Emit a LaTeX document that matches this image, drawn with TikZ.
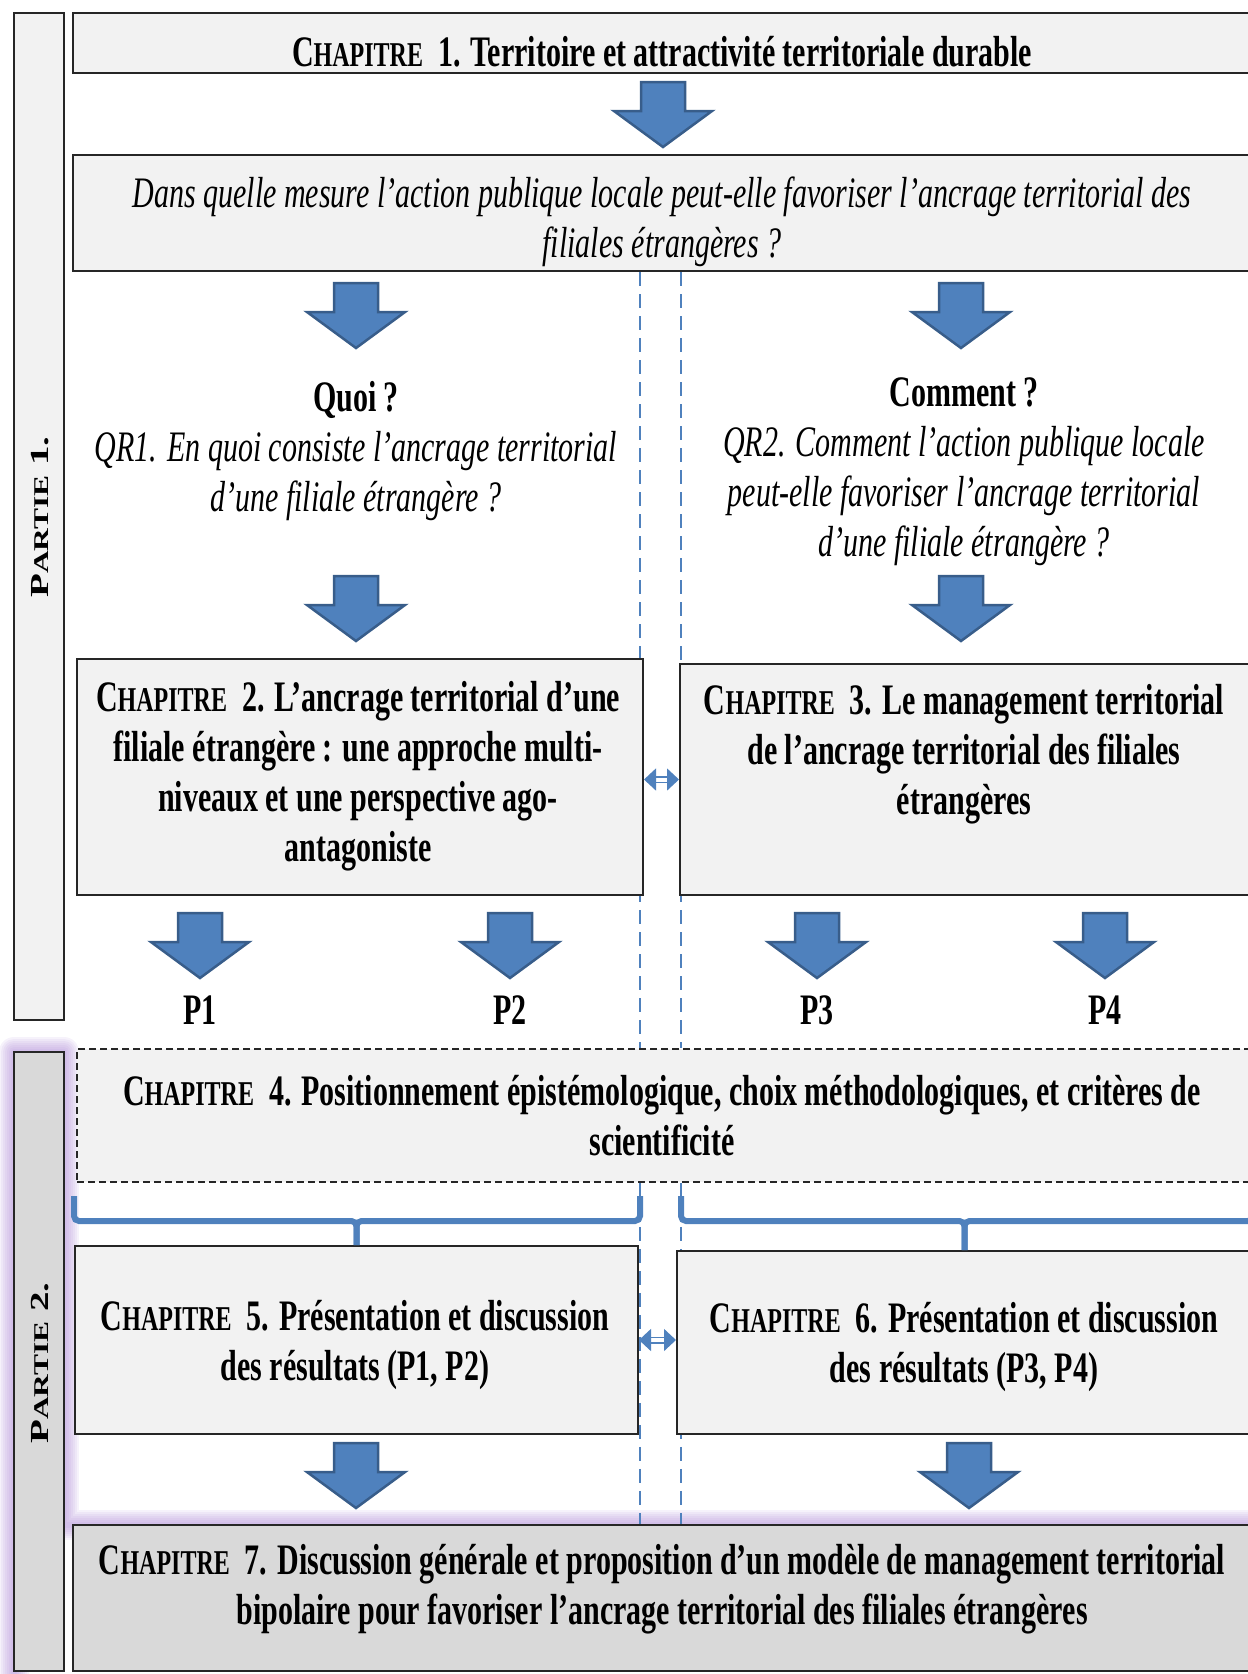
\documentclass[tikz,border=0pt]{standalone}
\usepackage{fontspec}
\setmainfont{Liberation Serif}
\usetikzlibrary{arrows.meta}

\definecolor{boxgray}{RGB}{242,242,242}
\definecolor{partgray}{RGB}{217,217,217}
\definecolor{arrowblue}{RGB}{79,129,189}
\definecolor{arrowedge}{RGB}{56,93,138}
\definecolor{glowviolet}{RGB}{175,140,215}

% small caps done by hand (the font has none)
\newcommand{\chap}{C{\fontsize{24}{27}\selectfont HAPITRE}}
\newcommand{\partie}{P{\fontsize{21}{24}\selectfont ARTIE}}
% lines stretched upward, as in the printed scheme
\newcommand{\tall}[1]{\scalebox{1}[1.45]{\begin{tabular}{@{}c@{}}#1\end{tabular}}}

\tikzset{
  box/.style={draw=black!85, line width=2pt, fill=boxgray, inner sep=0pt},
  txt/.style={inner sep=0pt, font=\fontsize{30}{34.5}\selectfont\bfseries},
  qtxt/.style={inner sep=0pt, font=\fontsize{30}{34.5}\selectfont\itshape},
  sep/.style={arrowblue, line width=1.5pt, dash pattern=on 14pt off 8pt},
  brace/.style={arrowblue, line width=6pt, rounded corners=5pt},
  dblarrow/.style={arrowblue, line width=1.5pt, double=white, double distance=4pt,
    {Triangle[length=12pt,width=22pt]}-{Triangle[length=12pt,width=22pt]}},
  downarrow/.pic={
    \filldraw[fill=arrowblue, draw=arrowedge, line width=2.5pt, line join=miter]
      (-22,0) -- (22,0) -- (22,29) -- (49,29) -- (0,65) -- (-49,29) -- (-22,29) -- cycle;
  }
}

\begin{document}
\begin{tikzpicture}[x=1pt, y=-1pt]
  \useasboundingbox (0,0) rectangle (1248,1674);
  \clip (0,0) rectangle (1248,1674);

  % soft halo round the second part
  \foreach \w in {30,26,...,6}
    \draw[glowviolet, line width=\w pt, opacity=0.11, line join=round]
      (14,1700) -- (14,1052) -- (64,1052) -- (64,1525) -- (1260,1525);

  % the two columns
  \coordinate (sepL) at (640,0);
  \coordinate (sepR) at (681,0);

  % parts
  \node[box, minimum width=50pt, minimum height=1007pt] (p1bar) at (39,516.5) {};
  \node[box, fill=partgray, minimum width=50pt, minimum height=619pt] (p2bar) at (39,1361.5) {};

  % chapters
  \node[box, minimum width=1179pt, minimum height=60pt] (ch1) at (662.5,43) {};
  \node[box, minimum width=1179pt, minimum height=116pt] (q) at (662.5,213) {};
  \node[box, line width=1.5pt, dash pattern=on 7pt off 4pt, minimum width=1175pt, minimum height=133pt] (ch4) at (664.5,1115.5) {};
  \node[box, fill=partgray, minimum width=1179pt, minimum height=146pt] (ch7) at (662.5,1598) {};

  \draw[sep] (sepL |- q.south) -- (sepL |- ch4.north);
  \draw[sep] (sepR |- q.south) -- (sepR |- ch4.north);
  \draw[sep] (sepL |- ch4.south) -- (sepL |- ch7.north);
  \draw[sep] (sepR |- ch4.south) -- (sepR |- ch7.north);

  \node[box, minimum width=566pt, minimum height=236pt] (ch2) at (360,777) {};
  \node[box, minimum width=572pt, minimum height=231pt] (ch3) at (966,779.5) {};
  \node[box, minimum width=563pt, minimum height=188pt] (ch5) at (356.5,1340) {};
  \node[box, minimum width=575pt, minimum height=183pt] (ch6) at (964.5,1342.5) {};

  % braces under chapter 4
  \draw[brace] (ch5.west |- 0,1196) |- (ch5.north |- 0,1221) -- (ch5.north);
  \draw[brace] (sepL |- 0,1196) |- (ch5.north |- 0,1221) -- (ch5.north);
  \draw[brace] (sepR |- 0,1196) |- (ch6.north |- 0,1221) -- (ch6.north);
  \draw[brace] (ch6.east |- 0,1196) |- (ch6.north |- 0,1221) -- (ch6.north);

  \draw[dblarrow] (ch3.west -| ch2.east) -- (ch3.west);
  \draw[dblarrow] (ch5.east) -- (ch5.east -| ch6.west);

  % block arrows
  \pic (a1) at (663,82) {downarrow};
  \pic (a2) at (356,283) {downarrow};
  \pic (a3) at (961,283) {downarrow};
  \pic (a4) at (356,576) {downarrow};
  \pic (a5) at (961,576) {downarrow};
  \pic (a6) at (200,913) {downarrow};
  \pic (a7) at (510,913) {downarrow};
  \pic (a8) at (817,913) {downarrow};
  \pic (a9) at (1105,913) {downarrow};
  \pic (a10) at (356,1443) {downarrow};
  \pic (a11) at (969,1443) {downarrow};

  % texts
  \node[txt, rotate=90, font=\fontsize{26}{30}\selectfont\bfseries] (p1lbl) at (40,517)
    {\scalebox{1.5}[1]{\partie\ 1.}};
  \node[txt, rotate=90, font=\fontsize{26}{30}\selectfont\bfseries] (p2lbl) at (40,1363)
    {\scalebox{1.5}[1]{\partie\ 2.}};

  \node[txt] (t1) at (662,56.5) {\tall{\chap\ \ 1. Territoire et attractivité territoriale durable}};
  \node[qtxt] (tq) at (662,222.5) {\tall{Dans quelle mesure l’action publique locale peut-elle favoriser l’ancrage territorial des\\
    filiales étrangères ?}};
  \node[txt] (quoi) at (356,451.5) {\tall{Quoi ?\\
    {\mdseries\itshape QR1. En quoi consiste l’ancrage territorial}\\
    {\mdseries\itshape d’une filiale étrangère ?}}};
  \node[txt] (comment) at (964,471.5) {\tall{Comment ?\\
    {\mdseries\itshape QR2. Comment l’action publique locale}\\
    {\mdseries\itshape peut-elle favoriser l’ancrage territorial}\\
    {\mdseries\itshape d’une filiale étrangère ?}}};
  \node[txt] (t2) at (358,776.5) {\tall{\chap\ \ 2. L’ancrage territorial d’une\\
    filiale étrangère : une approche multi-\\
    niveaux et une perspective ago-\\
    antagoniste}};
  \node[txt] (t3) at (964,754.5) {\tall{\chap\ \ 3. Le management territorial\\
    de l’ancrage territorial des filiales\\
    étrangères}};
  \node[txt] (lp1) at (200,1014.5) {\tall{P1}};
  \node[txt] (lp2) at (510,1014.5) {\tall{P2}};
  \node[txt] (lp3) at (817,1014.5) {\tall{P3}};
  \node[txt] (lp4) at (1105,1014.5) {\tall{P4}};
  \node[txt] (t4) at (662,1120.5) {\tall{\chap\ \ 4. Positionnement épistémologique, choix méthodologiques, et critères de\\
    scientificité}};
  \node[txt] (t5) at (355,1345.5) {\tall{\chap\ \ 5. Présentation et discussion\\
    des résultats (P1, P2)}};
  \node[txt] (t6) at (964,1347.5) {\tall{\chap\ \ 6. Présentation et discussion\\
    des résultats (P3, P4)}};
  \node[txt] (t7) at (662,1589.5) {\tall{\chap\ \ 7. Discussion générale et proposition d’un modèle de management territorial\\
    bipolaire pour favoriser l’ancrage territorial des filiales étrangères}};
\end{tikzpicture}
\end{document}
